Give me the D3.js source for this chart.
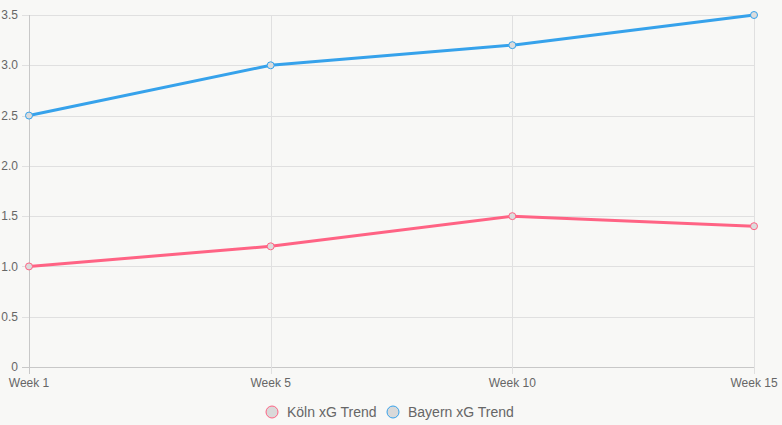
<!DOCTYPE html>
<html>
<head>
<meta charset="utf-8">
<script src="https://cdn.jsdelivr.net/npm/d3@7"></script>
<style>
  body { margin: 0; background: #f8f8f6; }
  svg { display: block; font-family: "Liberation Sans", Arial, sans-serif; }
</style>
</head>
<body>
<div id="chart"></div>
<script>
const weeks = ["Week 1", "Week 5", "Week 10", "Week 15"];
const kolnXG = [1.0, 1.2, 1.5, 1.4];
const bayernXG = [2.5, 3.0, 3.2, 3.5];
const yTicks = [0, 0.5, 1.0, 1.5, 2.0, 2.5, 3.0, 3.5];

const series = [
  { name: "Köln xG Trend", values: kolnXG, color: "rgb(255,99,132)" },
  { name: "Bayern xG Trend", values: bayernXG, color: "rgb(54,162,235)" },
];

const width = 782, height = 425;
const margin = { top: 15, right: 28, bottom: 58, left: 29 };

const svg = d3.select("#chart").append("svg")
  .attr("width", width).attr("height", height);

const x = d3.scalePoint().domain(weeks).range([margin.left, width - margin.right]);
const y = d3.scaleLinear().domain([0, 3.5]).range([height - margin.bottom, margin.top]);

// Grid lines
const grid = svg.append("g");
grid.selectAll(".hgrid").data(yTicks).enter().append("line")
  .attr("x1", margin.left - 7).attr("x2", width - margin.right)
  .attr("y1", d => Math.round(y(d)) + 0.5).attr("y2", d => Math.round(y(d)) + 0.5)
  .attr("stroke", d => d === 0 ? "#c8c8c8" : "#e0e0e0");
grid.selectAll(".vgrid").data(weeks).enter().append("line")
  .attr("x1", d => Math.round(x(d)) + 0.5).attr("x2", d => Math.round(x(d)) + 0.5)
  .attr("y1", margin.top).attr("y2", height - margin.bottom + 7)
  .attr("stroke", (d, i) => i === 0 ? "#c8c8c8" : "#e0e0e0");

// Y axis labels
svg.append("g").selectAll("text").data(yTicks).enter().append("text")
  .attr("x", margin.left - 11).attr("y", d => y(d))
  .attr("dy", "0.35em").attr("text-anchor", "end")
  .attr("font-size", 12).attr("fill", "#666")
  .text(d => d === 0 ? "0" : d.toFixed(1));

// X axis labels
svg.append("g").selectAll("text").data(weeks).enter().append("text")
  .attr("x", d => x(d)).attr("y", height - margin.bottom + 20)
  .attr("text-anchor", "middle")
  .attr("font-size", 12).attr("fill", "#666")
  .text(d => d);

// Lines
const line = d3.line().x((d, i) => x(weeks[i])).y(d => y(d));
series.forEach(s => {
  svg.append("path").datum(s.values)
    .attr("d", line).attr("fill", "none")
    .attr("stroke", s.color).attr("stroke-width", 3);
  svg.append("g").selectAll("circle").data(s.values).enter().append("circle")
    .attr("cx", (d, i) => x(weeks[i])).attr("cy", d => y(d)).attr("r", 3.5)
    .attr("fill", "#dcdcdc").attr("stroke", s.color).attr("stroke-width", 1);
});

// Legend
const legendX = [272, 393];
const legend = svg.append("g");
series.forEach((s, i) => {
  legend.append("circle")
    .attr("cx", legendX[i]).attr("cy", 412).attr("r", 6)
    .attr("fill", "#d9d9d9").attr("stroke", s.color).attr("stroke-width", 1);
  legend.append("text")
    .attr("x", legendX[i] + 15).attr("y", 412).attr("dy", "0.35em")
    .attr("font-size", 14).attr("fill", "#666")
    .text(s.name);
});
</script>
</body>
</html>
